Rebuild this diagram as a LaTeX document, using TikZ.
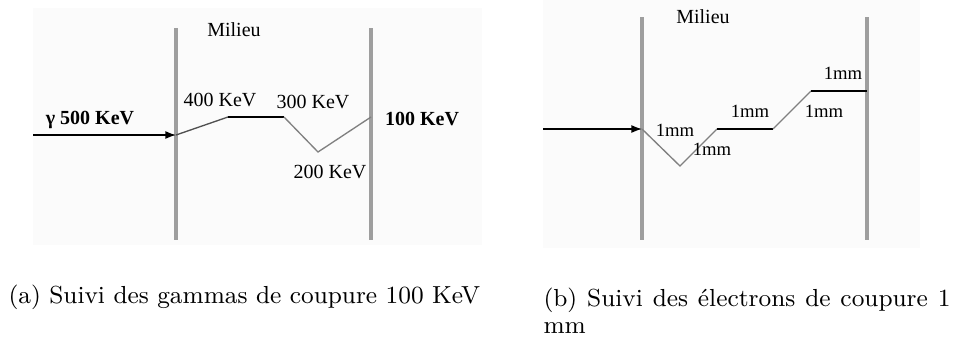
\documentclass[tikz,border=0pt]{standalone}
\usepackage{fontspec}
\newfontfamily\diagfont{Liberation Serif}
\usetikzlibrary{arrows.meta}
\definecolor{bgc}{HTML}{FBFBFB}
\definecolor{barc}{HTML}{9E9E9E}
\definecolor{diagc}{HTML}{808080}
\definecolor{diagd}{HTML}{505050}
\begin{document}
\begin{tikzpicture}[x=0.375pt,y=-0.375pt,
  bgbox/.style={fill=bgc,draw=none},
  bar/.style={draw=barc,line width=1.5pt},
  lbl/.style={font=\diagfont\fontsize{7.5}{9}\selectfont,inner sep=0pt},
  blbl/.style={font=\diagfont\bfseries\fontsize{7.5}{9}\selectfont,inner sep=0pt},
  mlbl/.style={font=\diagfont\fontsize{7}{8}\selectfont,inner sep=0pt},
  arr/.style={draw=black,line width=0.5pt,-{Latex[length=4pt,width=3pt]}},
  hseg/.style={draw=black,line width=0.5pt},
  dseg/.style={draw=diagc,line width=0.5pt},
  captxt/.style={font=\fontsize{9.25}{10.1}\selectfont,inner sep=0pt}]
\useasboundingbox (0,0) rectangle (961,336);

% ---------- (a) ----------
\fill[bgbox] (33,8) rectangle (482,245);
\coordinate (aLt) at (176,28);
\coordinate (aLb) at (176,240);
\coordinate (aRt) at (371,28);
\coordinate (aRb) at (371,240);
\draw[bar] (aLt) -- (aLb);
\draw[bar] (aRt) -- (aRb);
\node[lbl] (aMil) at (234,30) {Milieu};
\coordinate (aS) at (33,135);
\coordinate (aP0) at (176,135);
\coordinate (aP1) at (228,117);
\coordinate (aP2) at (284,117);
\coordinate (aP3) at (318,152);
\coordinate (aP4) at (371,117);
\draw[arr] (aS) -- (aP0);
\draw[draw=diagd,line width=0.5pt] (aP0) -- (aP1);
\draw[hseg] (aP1) -- (aP2);
\draw[dseg] (aP2) -- (aP3) -- (aP4);
\node[blbl] (aIn) at (90,120) {γ 500 KeV};
\node[lbl] (a400) at (220,100) {400 KeV};
\node[lbl] (a300) at (313,102) {300 KeV};
\node[lbl] (a200) at (330,172) {200 KeV};
\node[blbl] (aOut) at (422,119) {100 KeV};
\node[captxt,anchor=base west] (capA) at (8,303) {(a) Suivi des gammas de coupure 100 KeV};

% ---------- (b) ----------
\fill[bgbox] (543,0) rectangle (920,248);
\coordinate (bLt) at (642,17);
\coordinate (bLb) at (642,240);
\coordinate (bRt) at (867,17);
\coordinate (bRb) at (867,240);
\draw[bar] (bLt) -- (bLb);
\draw[bar] (bRt) -- (bRb);
\node[lbl] (bMil) at (703,17) {Milieu};
\coordinate (bS) at (543,129);
\coordinate (bP0) at (642,129);
\coordinate (bP1) at (680,166);
\coordinate (bP2) at (717,129);
\coordinate (bP3) at (773,129);
\coordinate (bP4) at (811,91);
\coordinate (bP5) at (867,91);
\draw[arr] (bS) -- (bP0);
\draw[dseg] (bP0) -- (bP1) -- (bP2);
\draw[hseg] (bP2) -- (bP3);
\draw[dseg] (bP3) -- (bP4);
\draw[hseg] (bP4) -- (bP5);
\node[mlbl] (bm1) at (675,130) {1mm};
\node[mlbl] (bm2) at (712,149) {1mm};
\node[mlbl] (bm3) at (750,111) {1mm};
\node[mlbl] (bm4) at (824,111) {1mm};
\node[mlbl] (bm5) at (843,73) {1mm};
\node[captxt,anchor=base west] (capB) at (543,306)
  {\makebox[152.6pt][s]{(b) Suivi des électrons de coupure 1}};
\node[captxt,anchor=base west] (capB2) at (543,333) {mm};
\end{tikzpicture}
\end{document}
